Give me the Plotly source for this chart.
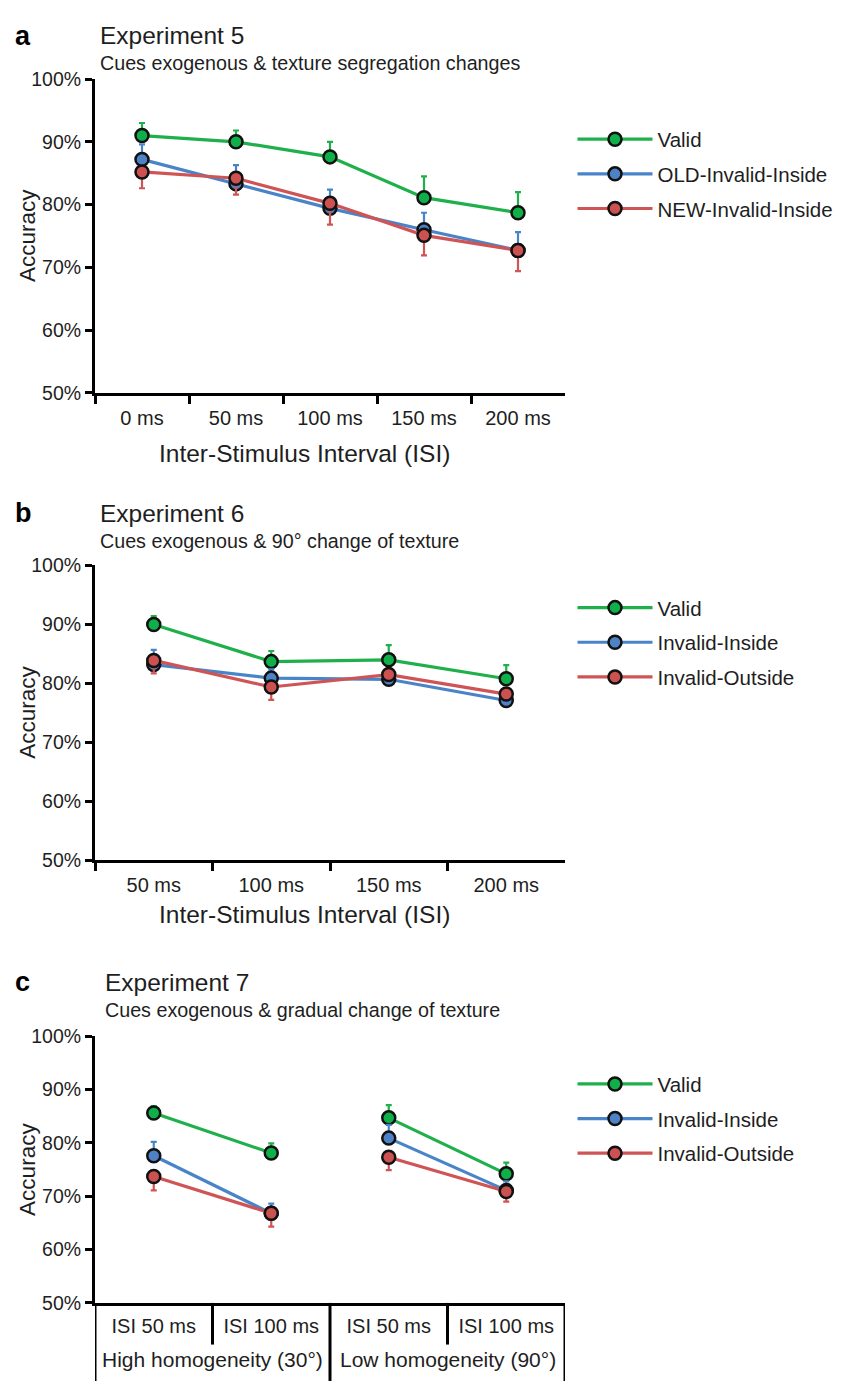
import plotly.graph_objects as go

W, H = 845, 1382

# ---------------- data ----------------
# Panel a (Experiment 5)
isi_a = ["0 ms", "50 ms", "100 ms", "150 ms", "200 ms"]
valid_a = [91.0, 90.0, 87.6, 81.1, 78.7]
valid_a_err = [2.0, 1.8, 2.4, 3.4, 3.3]
old_a = [87.2, 83.3, 79.4, 76.0, 72.7]
old_a_err = [2.4, 3.0, 3.0, 2.7, 2.9]
new_a = [85.2, 84.2, 80.2, 75.1, 72.7]
new_a_err = [2.6, 2.6, 3.4, 3.2, 3.3]
names_a = ["Valid", "OLD-Invalid-Inside", "NEW-Invalid-Inside"]

# Panel b (Experiment 6)
isi_b = ["50 ms", "100 ms", "150 ms", "200 ms"]
valid_b = [90.0, 83.7, 84.0, 80.8]
valid_b_err = [1.4, 1.8, 2.5, 2.3]
inside_b = [83.2, 80.9, 80.7, 77.1]
inside_b_err = [2.5, 1.5, 1.0, 0.8]
outside_b = [83.9, 79.4, 81.5, 78.2]
outside_b_err = [2.2, 2.2, 1.0, 0.8]
names_b = ["Valid", "Invalid-Inside", "Invalid-Outside"]

# Panel c (Experiment 7)
groups_c = ["High homogeneity (30°)", "Low homogeneity (90°)"]
isi_c = ["ISI 50 ms", "ISI 100 ms"]
valid_c = [85.6, 78.1, 84.7, 74.2]
valid_c_err = [1.3, 1.8, 2.4, 2.1]
inside_c = [77.6, 66.8, 80.9, 71.1]
inside_c_err = [2.6, 1.8, 2.5, 1.7]
outside_c = [73.7, 66.8, 77.3, 70.9]
outside_c_err = [2.6, 2.5, 2.4, 1.9]
names_c = ["Valid", "Invalid-Inside", "Invalid-Outside"]

yticks = [50, 60, 70, 80, 90, 100]
ytick_labels = ["%d%%" % v for v in yticks]

# ---------------- styles ----------------
FONT = "Liberation Sans, Arial, sans-serif"
TXT = "#1e1e1e"
LINE_COLORS = ["#1fb04c", "#4a84c8", "#cf5455"]
FILL_COLORS = ["#0fb04a", "#4d82c6", "#cc5252"]
ERR_DIR = ["up", "up", "down"]

OFF = 8  # default page body margin of the html page


def py(p):
    return 1 - (p - OFF) / H


def px(p):
    return (p - OFF) / W


fig = go.Figure()


def add_series(x, y, err, idx, name, xaxis, yaxis, legend, showlegend=True, group=None):
    zeros = [0] * len(err)
    up = err if ERR_DIR[idx] == "up" else zeros
    down = err if ERR_DIR[idx] == "down" else zeros
    fig.add_trace(go.Scatter(
        x=x, y=y, name=name, mode="lines+markers",
        xaxis=xaxis, yaxis=yaxis, legend=legend,
        showlegend=showlegend, legendgroup=group or (legend + name),
        line=dict(color=LINE_COLORS[idx], width=3.2),
        marker=dict(size=13, color=FILL_COLORS[idx], line=dict(color="#111111", width=2.5)),
        error_y=dict(type="data", symmetric=False, array=up, arrayminus=down,
                     color=LINE_COLORS[idx], thickness=2.2, width=3),
        cliponaxis=False,
    ))


# Panel a
for i, (vals, errs) in enumerate([(valid_a, valid_a_err), (old_a, old_a_err), (new_a, new_a_err)]):
    add_series(isi_a, vals, errs, i, names_a[i], "x", "y", "legend")

# Panel b
for i, (vals, errs) in enumerate([(valid_b, valid_b_err), (inside_b, inside_b_err), (outside_b, outside_b_err)]):
    add_series(isi_b, vals, errs, i, names_b[i], "x2", "y2", "legend2")

# Panel c (two separate groups, lines not connected between groups)
n_in = len(isi_c)
for i, (vals, errs) in enumerate([(valid_c, valid_c_err), (inside_c, inside_c_err), (outside_c, outside_c_err)]):
    for g in range(len(groups_c)):
        xs = [g * n_in + k for k in range(n_in)]
        add_series(xs, vals[g * n_in:(g + 1) * n_in], errs[g * n_in:(g + 1) * n_in], i,
                   names_c[i], "x3", "y3", "legend3", showlegend=(g == 0), group="c" + names_c[i])

X_DOM = [px(95), px(565)]
dom_a = [py(388), py(69)]
dom_b = [py(863), py(563.3)]
dom_c = [py(1312.7), py(1041.7)]

axis_common = dict(showline=True, linecolor="black", linewidth=3, mirror=False,
                   showgrid=False, zeroline=False,
                   tickfont=dict(family=FONT, size=20, color=TXT))

yaxis_common = dict(axis_common, range=[50, 100], tickvals=yticks, ticktext=ytick_labels,
                    ticks="outside", ticklen=7, tickwidth=3, tickcolor="black",
                    tickfont=dict(family=FONT, size=19.5, color=TXT))

xcat_common = dict(axis_common, type="category", ticks="outside", tickson="boundaries",
                   ticklen=8, tickwidth=3, tickcolor="black", ticklabelstandoff=5)

n_ctot = len(groups_c) * n_in
fig.update_layout(
    width=W, height=H,
    margin=dict(l=0, r=0, t=0, b=0),
    paper_bgcolor="white", plot_bgcolor="white",
    font=dict(family=FONT, color=TXT),
    xaxis=dict(xcat_common, domain=X_DOM, anchor="y", range=[-0.5, len(isi_a) - 0.5]),
    yaxis=dict(yaxis_common, domain=dom_a, anchor="x"),
    xaxis2=dict(xcat_common, domain=X_DOM, anchor="y2", range=[-0.5, len(isi_b) - 0.5]),
    yaxis2=dict(yaxis_common, domain=dom_b, anchor="x2"),
    xaxis3=dict(axis_common, domain=X_DOM, anchor="y3", range=[-0.5, n_ctot - 0.5],
                tickvals=list(range(n_ctot)), ticktext=isi_c * len(groups_c), ticks="",
                ticklabelstandoff=3),
    yaxis3=dict(yaxis_common, domain=dom_c, anchor="x3"),
    showlegend=True,
)

leg_common = dict(xanchor="left", yanchor="top", bgcolor="rgba(0,0,0,0)",
                  font=dict(family=FONT, size=20.5, color=TXT), tracegroupgap=5,
                  itemwidth=75, traceorder="grouped")
fig.update_layout(
    legend=dict(leg_common, x=px(572.5), y=py(110)),
    legend2=dict(leg_common, x=px(572.5), y=py(586)),
    legend3=dict(leg_common, x=px(572.5), y=py(1070)),
)

# Dividers for panel c x-axis
shapes = []
for b in range(n_ctot + 1):
    xb = b - 0.5
    long_line = (b % n_in == 0)
    shapes.append(dict(type="line", xref="x3", yref="paper", x0=xb, x1=xb,
                       y0=py(1312.7), y1=py(1392 if long_line else 1355),
                       line=dict(color="black", width=3)))
fig.update_layout(shapes=shapes)

ann = []


def text(x, y, s, size, xanchor="left", bold=False, angle=0, xref="paper"):
    ann.append(dict(x=x, y=y, xref=xref, yref="paper", text=("<b>%s</b>" % s) if bold else s,
                    showarrow=False, xanchor=xanchor, yanchor="middle", textangle=angle,
                    font=dict(family=FONT, size=size, color=TXT if not bold else "black")))


panels = [
    ("a", "Experiment 5", "Cues exogenous &amp; texture segregation changes", 25, 53, 98, (69 + 388) / 2),
    ("b", "Experiment 6", "Cues exogenous &amp; 90° change of texture", 510, 538.5, 98, (563 + 863) / 2),
    ("c", "Experiment 7", "Cues exogenous &amp; gradual change of texture", 987, 1015.5, 103, (1042 + 1313) / 2),
]
for letter, title, sub, ty, sy, tx, ymid in panels:
    text(px(13), py(ty), letter, 27, bold=True)
    text(px(tx), py(ty), title, 24.5)
    text(px(tx), py(sy), sub, 19.7)
    text(px(28), py(ymid), "Accuracy", 22.5, xanchor="center", angle=-90)

text(px(304), py(450), "Inter-Stimulus Interval (ISI)", 24.5, xanchor="center")
text(px(304), py(918), "Inter-Stimulus Interval (ISI)", 24.5, xanchor="center")

for g, gname in enumerate(groups_c):
    text(g * n_in + (n_in - 1) / 2, py(1370.5), gname, 21, xanchor="center", xref="x3")

fig.update_layout(annotations=ann)

fig.write_html("out.html")
